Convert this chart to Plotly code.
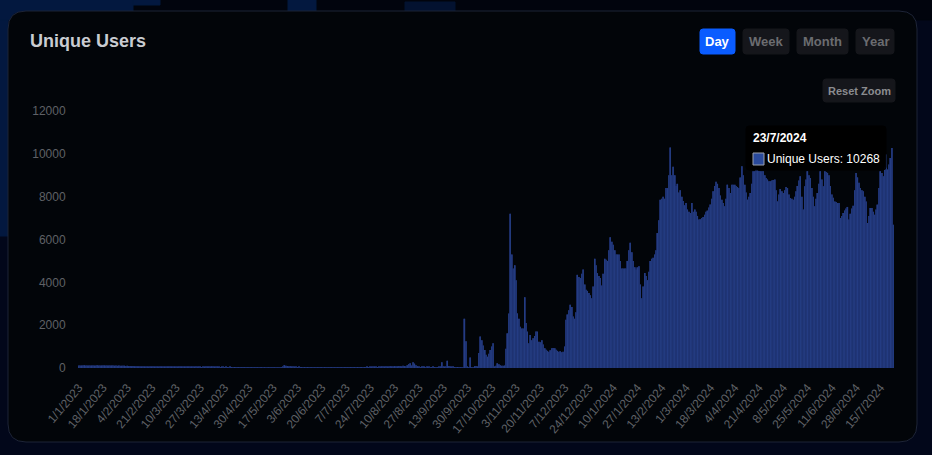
"""Unique users per day, dark dashboard card."""
import pandas as pd
import plotly.graph_objects as go

FIRST_DAY = "2023-01-01"

USERS = [
    112, 118, 121, 115, 124, 119, 113, 117, 122, 116,
    120, 114, 118, 123, 117, 112, 119, 115, 121, 116,
    118, 113, 120, 111, 116, 109, 114, 107, 112, 105,
    110, 104, 108, 98, 103, 92, 96, 85, 88, 76,
    72, 65, 68, 58, 62, 55, 60, 52, 57, 50,
    58, 53, 61, 55, 49, 57, 52, 60, 54, 48,
    56, 51, 59, 53, 62, 55, 50, 58, 52, 47,
    55, 60, 53, 48, 57, 51, 62, 54, 49, 56,
    52, 47, 55, 50, 58, 53, 46, 54, 49, 57,
    63, 55, 50, 72, 58, 52, 47, 54, 49, 44,
    52, 47, 42, 50, 45, 40, 48, 43, 38, 46,
    41, 36, 44, 39, 34, 42, 37, 33, 40, 35,
    30, 38, 33, 29, 36, 31, 27, 34, 30, 26,
    33, 29, 25, 31, 28, 24, 30, 27, 23, 29,
    26, 22, 35, 58, 132, 105, 88, 70, 76, 58,
    62, 48, 52, 44, 49, 41, 45, 38, 43, 36,
    42, 37, 33, 40, 35, 31, 38, 34, 30, 37,
    33, 29, 36, 32, 28, 35, 31, 38, 34, 30,
    37, 33, 40, 36, 32, 39, 35, 42, 38, 34,
    41, 37, 44, 40, 36, 43, 39, 46, 42, 38,
    45, 41, 48, 44, 52, 47, 43, 55, 50, 46,
    58, 52, 65, 60, 55, 72, 64, 58, 80, 70,
    62, 88, 75, 65, 95, 82, 70, 110, 90, 75,
    130, 190, 225, 120, 270, 205, 130, 85, 60, 45,
    55, 70, 48, 40, 60, 52, 38, 45, 55, 42,
    35, 40, 52, 62, 265, 70, 48, 55, 340, 90,
    60, 48, 55, 42, 38, 45, 35, 30, 28, 40,
    2300, 1250, 60, 30, 490, 40, 25, 80, 95, 60,
    700, 1470, 1300, 1050, 840, 620, 530, 660, 840, 1000,
    1150, 60, 100, 220, 170, 130, 100, 110, 120, 900,
    1620, 2550, 7200, 5300, 4650, 4800, 4100, 2550, 2300, 1930,
    1850, 1850, 3300, 2100, 1700, 1150, 1540, 1300, 1390, 1500,
    1700, 1700, 1230, 1200, 1300, 1100, 920, 850, 800, 760,
    830, 920, 930, 920, 850, 800, 760, 780, 740, 760,
    1000, 2250, 2500, 2700, 2950, 2850, 2400, 2300, 2600, 4350,
    4250, 4200, 4400, 4600, 3900, 3650, 3600, 3500, 3400, 3260,
    3800, 5100, 4800, 4430, 4300, 4200, 3850, 4400, 5100, 5050,
    5000, 5500, 6100, 5900, 5750, 5500, 5300, 5300, 5300, 5000,
    4650, 4650, 4650, 4650, 5000, 5500, 5850, 5400, 5000, 4700,
    4600, 4700, 4750, 3900, 3260, 3800, 4430, 4300, 4100, 4500,
    5000, 5100, 5150, 5300, 5500, 6300, 6900, 7860, 7900, 8000,
    7900, 8400, 8400, 9000, 10300, 9000, 9400, 9000, 8500, 8600,
    8200, 8300, 8000, 7800, 7600, 7700, 7400, 7300, 7240, 7700,
    7300, 7400, 7300, 7100, 6930, 6950, 7000, 7050, 7150, 7300,
    7350, 7500, 7630, 7900, 8250, 8500, 8700, 8600, 8400, 8050,
    7860, 7700, 7550, 7900, 8560, 8400, 8170, 8560, 8560, 8560,
    8500, 8450, 8400, 8900, 9420, 9000, 8560, 8200, 7860, 8000,
    8170, 8600, 9190, 9190, 9300, 9250, 9200, 9190, 9190, 9190,
    9000, 8870, 8800, 8720, 8720, 8750, 8780, 8800, 8300, 7780,
    8100, 8360, 8250, 8170, 8300, 8450, 8400, 8100, 7940, 7900,
    7860, 8000, 8250, 8500, 8750, 8950, 8000, 7400, 8490, 8800,
    9190, 9000, 8870, 8400, 8000, 7550, 7900, 8170, 8600, 9190,
    8800, 8490, 9190, 9150, 9110, 9000, 8500, 8100, 7950, 7780,
    7750, 7700, 7700, 7000, 7100, 7240, 7350, 7450, 7520, 6930,
    7200, 7450, 7580, 8300, 9110, 8900, 8650, 8400, 8300, 8250,
    8000, 7780, 6770, 7100, 7470, 7470, 7300, 7160, 7400, 7630,
    8400, 9190, 9100, 8950, 9400, 9970, 9270, 9500, 9810, 10268,
    6690,
]

TICK_LABELS = [
    "1/1/2023", "18/1/2023", "4/2/2023", "21/2/2023", "10/3/2023", "27/3/2023",
    "13/4/2023", "30/4/2023", "17/5/2023", "3/6/2023", "20/6/2023", "7/7/2023",
    "24/7/2023", "10/8/2023", "27/8/2023", "13/9/2023", "30/9/2023", "17/10/2023",
    "3/11/2023", "20/11/2023", "7/12/2023", "24/12/2023", "10/1/2024", "27/1/2024",
    "13/2/2024", "1/3/2024", "18/3/2024", "4/4/2024", "21/4/2024", "8/5/2024",
    "25/5/2024", "11/6/2024", "28/6/2024", "15/7/2024",
]

# plot area in page pixels, used to place the card furniture
LEFT, RIGHT, TOP, BOTTOM = 78, 894, 111, 368
FONT = "Liberation Sans, Arial, sans-serif"
NAVY = "#03183f"

days = pd.date_range(FIRST_DAY, periods=len(USERS), freq="D")
dates = [f"{d.day}/{d.month}/{d.year}" for d in days]


def px_x(x):
    return (x - LEFT) / (RIGHT - LEFT)


def px_y(y):
    return (BOTTOM - y) / (BOTTOM - TOP)


def rounded(x0, y0, x1, y1, r, fill, line=None, layer="below", opacity=1):
    """Rounded rectangle given in page pixels."""
    path = (
        f"M {px_x(x0 + r)} {px_y(y0)} L {px_x(x1 - r)} {px_y(y0)} "
        f"Q {px_x(x1)} {px_y(y0)} {px_x(x1)} {px_y(y0 + r)} "
        f"L {px_x(x1)} {px_y(y1 - r)} "
        f"Q {px_x(x1)} {px_y(y1)} {px_x(x1 - r)} {px_y(y1)} "
        f"L {px_x(x0 + r)} {px_y(y1)} "
        f"Q {px_x(x0)} {px_y(y1)} {px_x(x0)} {px_y(y1 - r)} "
        f"L {px_x(x0)} {px_y(y0 + r)} "
        f"Q {px_x(x0)} {px_y(y0)} {px_x(x0 + r)} {px_y(y0)} Z"
    )
    return dict(
        type="path", xref="paper", yref="paper", path=path, fillcolor=fill,
        line=dict(color=line or fill, width=1), layer=layer, opacity=opacity,
    )


def label(x, y, text, color, size, bold=True, anchor="center"):
    text = f"<b>{text}</b>" if bold else text
    return dict(
        xref="paper", yref="paper", x=px_x(x), y=px_y(y), text=text, showarrow=False,
        xanchor=anchor, yanchor="middle", font=dict(family=FONT, size=size, color=color),
    )


fig = go.Figure()
# solid darker layer so the gaps between the thin bars read blue, not black
fig.add_trace(go.Bar(x=dates, y=USERS, marker=dict(color="#18275c", line_width=0)))
# the tiny alpha stops plotly merging neighbouring thin bars into a solid block
fig.add_trace(
    go.Bar(
        x=dates,
        y=USERS,
        marker=dict(color="rgba(37,61,132,0.98)", line_width=0),
        name="Unique Users",
    )
)

shapes = [
    # page backdrop behind the card
    rounded(-5, -5, 940, 460, 0, "#02071a"),
    rounded(-5, -5, 940, 20, 0, "#01040d"),
    rounded(-5, -5, 133, 20, 0, NAVY),
    rounded(133, -5, 160, 5, 0, NAVY),
    rounded(288, -5, 316, 20, 0, NAVY),
    rounded(405, 2, 455, 20, 0, "#031230"),
    rounded(-5, 20, 8, 236, 0, NAVY),
    rounded(8, 11, 917, 442, 18, "#020509", line="#1d2437"),
    # buttons
    rounded(700, 29, 735, 54, 3, "#0a5cff"),
    rounded(743, 29, 789, 54, 3, "#15161b"),
    rounded(797, 29, 848, 54, 3, "#15161b"),
    rounded(856, 29, 894, 54, 3, "#15161b"),
    rounded(823, 79, 895, 102, 3, "#15161b"),
    # tooltip
    rounded(746, 126, 886, 170, 3, "#000000", layer="above", opacity=0.92),
    rounded(753, 153, 764, 165, 0, "#2a4a9c", line="#9aa0ad", layer="above"),
]

annotations = [
    label(28, 41, "Unique Users", "#c9ccd1", 18, anchor="left"),
    label(717.5, 41.5, "Day", "#ffffff", 13),
    label(766, 41.5, "Week", "#6b6c70", 13),
    label(822.5, 41.5, "Month", "#6b6c70", 13),
    label(875, 41.5, "Year", "#6b6c70", 13),
    label(859, 91, "Reset Zoom", "#8b8c90", 11),
    label(751, 138, "23/7/2024", "#ffffff", 12, anchor="left"),
    label(765, 159, "Unique Users: 10268", "#ffffff", 12, bold=False, anchor="left"),
]

fig.update_layout(
    width=932,
    height=455,
    autosize=False,
    margin=dict(l=LEFT, r=932 - RIGHT, t=TOP, b=455 - BOTTOM, pad=0),
    paper_bgcolor="#020509",
    plot_bgcolor="rgba(0,0,0,0)",
    barmode="overlay",
    bargap=0.2,
    showlegend=False,
    font=dict(family=FONT, size=12, color="#5f6166"),
    shapes=shapes,
    annotations=annotations,
)
fig.update_xaxes(
    type="category",
    categoryorder="array",
    categoryarray=dates,
    tickmode="array",
    tickvals=TICK_LABELS,
    ticktext=TICK_LABELS,
    tickangle=-50,
    showgrid=False,
    zeroline=False,
    showline=False,
    ticks="outside",
    ticklen=7,
    tickcolor="rgba(0,0,0,0)",
)
fig.update_yaxes(
    range=[0, 12000],
    tickvals=[0, 2000, 4000, 6000, 8000, 10000, 12000],
    tickformat="d",
    showgrid=False,
    zeroline=False,
    showline=False,
    ticks="outside",
    ticklen=9,
    tickcolor="rgba(0,0,0,0)",
)

fig.write_html(
    "out.html",
    config={"displayModeBar": False},
    post_script="document.body.style.margin = '0';",
)
